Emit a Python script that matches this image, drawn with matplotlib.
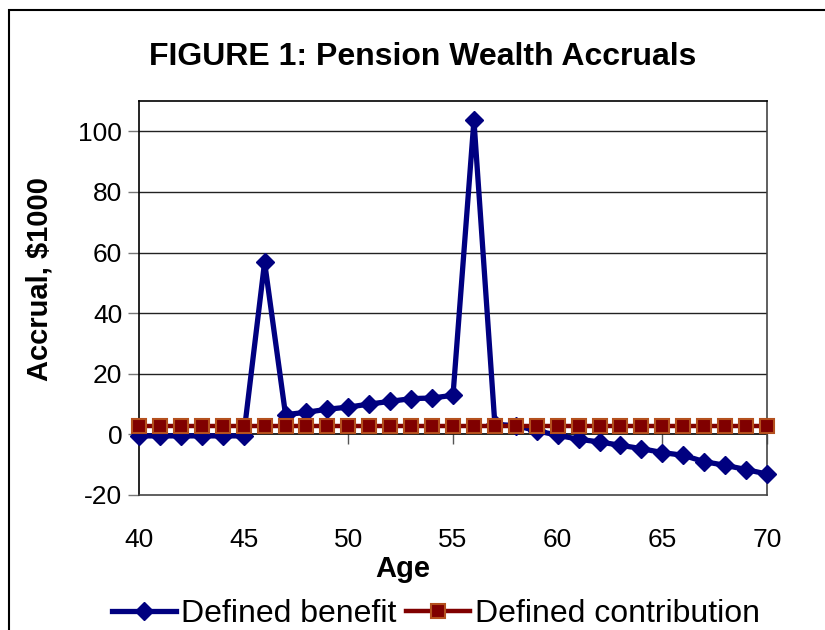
import matplotlib
matplotlib.use("Agg")
import matplotlib.pyplot as plt
from matplotlib.patches import Rectangle
from matplotlib.lines import Line2D

plt.rcParams['font.family'] = ['Liberation Sans', 'DejaVu Sans']
plt.rcParams['axes.unicode_minus'] = False

ages = list(range(40, 71))
defined_benefit = [-0.5, -0.5, -0.5, -0.5, -0.5, -0.5, 56.8, 6.5, 7.3, 8.3, 9.0,
                   10.0, 10.9, 11.8, 12.0, 12.9, 103.6, 3.3, 2.9, 1.2, -0.3,
                   -1.6, -2.5, -3.6, -4.7, -6.0, -6.9, -9.0, -10.2, -11.6, -13.1]
defined_contribution = [2.8] * len(ages)

title = "FIGURE 1: Pension Wealth Accruals"
xlabel = "Age"
ylabel = "Accrual, $1000"
series_names = ["Defined benefit", "Defined contribution"]
xticks = [40, 45, 50, 55, 60, 65, 70]
yticks = [-20, 0, 20, 40, 60, 80, 100]

W, H = 825, 630
fig = plt.figure(figsize=(W / 100, H / 100), dpi=100)

# outer chart border
fig.patches.append(Rectangle((9 / W, -0.1), 1.0, 1 - 10 / H + 0.1,
                             transform=fig.transFigure, fill=False,
                             edgecolor='black', linewidth=1.5))

ax = fig.add_axes([139 / W, 1 - 495 / H, (767 - 139) / W, (495 - 101) / H])
ax.set_xlim(40, 70)
ax.set_ylim(-20, 110)

for y in yticks:
    if y > 0:
        ax.axhline(y, color='#222222', linewidth=1.0, zorder=1)

# zero axis with ticks
sec = ax.secondary_xaxis(20 / 130)
sec.set_xticks(xticks)
sec.tick_params(axis='x', direction='out', length=7, width=1, color='#555555',
                labelbottom=False, labeltop=False)
for s in sec.spines.values():
    s.set_color('black')
    s.set_linewidth(1.2)

db_color = '#000080'
dc_color = '#800000'
dc_edge = '#B4501E'

ax.plot(ages, defined_benefit, color=db_color, linewidth=3.8, marker='D',
        markersize=9, markerfacecolor=db_color, markeredgecolor=db_color,
        zorder=3, clip_on=False)
ax.plot(ages, defined_contribution, color=dc_color, linewidth=3.2, marker='s',
        markersize=10, markerfacecolor=dc_color, markeredgecolor=dc_edge,
        markeredgewidth=1.5, zorder=4, clip_on=False)

ax.set_xticks(xticks)
ax.set_yticks(yticks)
ax.tick_params(axis='x', length=0, labelsize=19, pad=24)
ax.tick_params(axis='y', direction='out', length=8, width=1, color='#777777',
               labelsize=19, pad=4)

ax.spines['left'].set_color('black')
ax.spines['top'].set_color('black')
ax.spines['right'].set_color('#444444')
ax.spines['bottom'].set_color('#444444')
for s in ax.spines.values():
    s.set_linewidth(1.2)

fig.text(423 / W, 1 - 57 / H, title, ha='center', va='center',
         fontsize=23, fontweight='bold')
fig.text(40 / W, 1 - 279 / H, ylabel, ha='center', va='center',
         rotation=90, fontsize=21, fontweight='bold')
fig.text(403 / W, 1 - 569 / H, xlabel, ha='center', va='center',
         fontsize=21, fontweight='bold')

handles = [
    Line2D([], [], color=db_color, linewidth=3.8, marker='D', markersize=9,
           markerfacecolor=db_color, markeredgecolor=db_color),
    Line2D([], [], color=dc_color, linewidth=3.2, marker='s', markersize=10,
           markerfacecolor=dc_color, markeredgecolor=dc_edge, markeredgewidth=1.5),
]
fig.legend(handles, series_names, loc='center', ncol=2,
           bbox_to_anchor=(436 / W, 1 - 614 / H), frameon=False,
           fontsize=23, handlelength=2.0, handletextpad=0.15, columnspacing=0.3,
           borderpad=0)

fig.savefig("out.png", dpi=100)
